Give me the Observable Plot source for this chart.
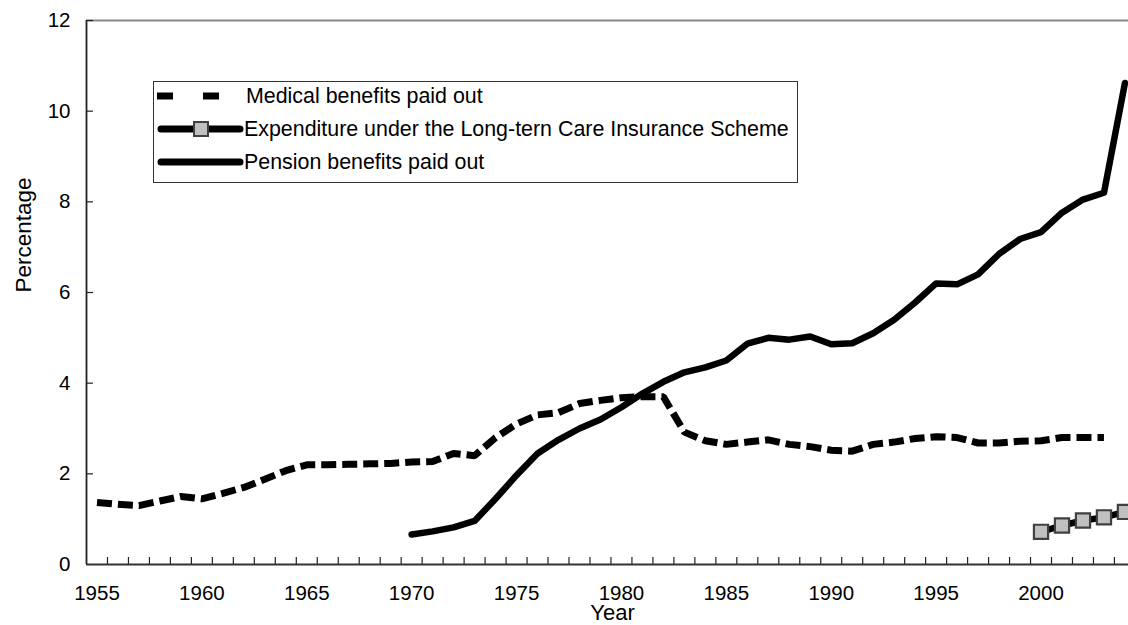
<!DOCTYPE html>
<html>
<head>
<meta charset="utf-8">
<script src="https://cdn.jsdelivr.net/npm/d3@7"></script>
<script src="https://cdn.jsdelivr.net/npm/@observablehq/plot@0.6"></script>
<style>
  html, body { margin: 0; padding: 0; background: #fff; }
  #wrap { position: relative; width: 1128px; height: 625px; overflow: hidden; font-family: "Liberation Sans", Arial, sans-serif; }
  #legend { position: absolute; left: 153px; top: 81px; width: 643px; height: 100px; border: 1px solid #333; background: #fff; }
  .row { position: absolute; left: 0; height: 30px; display: flex; align-items: center; }
  .row svg { display: block; }
  .row span { font-size: 21.4px; color: #000; white-space: nowrap; }
</style>
</head>
<body>
<div id="wrap"></div>
<script>
// ---- data ----
const medicalYears = d3.range(1955, 2004);
const medical = [1.37,1.33,1.3,1.4,1.5,1.45,1.57,1.7,1.88,2.07,
                 2.2,2.2,2.21,2.22,2.23,2.26,2.27,2.45,2.4,2.8,
                 3.1,3.3,3.35,3.55,3.62,3.68,3.7,3.7,2.92,2.73,
                 2.65,2.7,2.75,2.65,2.6,2.52,2.5,2.65,2.7,2.78,
                 2.82,2.8,2.68,2.68,2.72,2.73,2.8,2.8,2.8];
const pensionYears = d3.range(1970, 2005);
const pension = [0.66,0.73,0.82,0.96,1.45,1.97,2.45,2.75,3.0,3.2,
                 3.47,3.77,4.03,4.24,4.35,4.5,4.87,5.0,4.96,5.03,
                 4.86,4.88,5.1,5.4,5.78,6.2,6.18,6.4,6.85,7.18,
                 7.33,7.76,8.05,8.2,10.62];
const ltcYears = [2000, 2001, 2002, 2003, 2004];
const ltc = [0.72, 0.86, 0.97, 1.04, 1.16];
const seriesNames = ["Medical benefits paid out",
                     "Expenditure under the Long-tern Care Insurance Scheme",
                     "Pension benefits paid out"];
const xTickLabels = [1955,1960,1965,1970,1975,1980,1985,1990,1995,2000];
const yTickLabels = [0,2,4,6,8,10,12];

const medData = medicalYears.map((y, i) => ({year: y, value: medical[i]}));
const penData = pensionYears.map((y, i) => ({year: y, value: pension[i]}));
const ltcData = ltcYears.map((y, i) => ({year: y, value: ltc[i]}));
const yearBounds = d3.range(1955.5, 2004.5, 1);

const W = 1128, H = 625, mL = 86, mT = 20, mB = 61, mR = 0;
const plotH = H - mT - mB, plotW = W - mL - mR;

const chart = Plot.plot({
  width: W, height: H,
  marginLeft: mL, marginRight: mR, marginTop: mT, marginBottom: mB,
  x: {domain: [1954.5, 2004.17]},
  y: {domain: [0, 12]},
  style: {fontFamily: "'Liberation Sans', Arial, sans-serif", fontSize: "20px", color: "#000", background: "#fff", overflow: "hidden"},
  marks: [
    Plot.ruleY([12], {stroke: "#888", strokeWidth: 2}),
    Plot.tickY(yTickLabels.slice(1), {y: d => d, stroke: "#222", strokeWidth: 1.2, insetRight: plotW - 7}),
    Plot.tickX(yearBounds, {x: d => d, stroke: "#222", strokeWidth: 1.2, insetTop: plotH - 7}),
    Plot.ruleX([1954.5], {stroke: "#222", strokeWidth: 1.8}),
    Plot.ruleY([0], {stroke: "#333", strokeWidth: 2}),
    Plot.axisY({ticks: yTickLabels, tickSize: 0, tickPadding: 16, fontSize: 20.5, label: null}),
    Plot.axisX({ticks: xTickLabels, tickSize: 0, tickPadding: 21, fontSize: 20.5, label: null, tickFormat: d => String(d)}),
    Plot.text(["Year"], {frameAnchor: "bottom", dy: 48, dx: 5, fontSize: 22, lineAnchor: "middle"}),
    Plot.text(["Percentage"], {frameAnchor: "left", dx: -63, rotate: -90, fontSize: 22.5, lineAnchor: "middle"}),
    Plot.line(medData, {x: "year", y: "value", stroke: "#000", strokeWidth: 7, strokeDasharray: "15,6", strokeLinecap: "butt", strokeLinejoin: "miter"}),
    Plot.line(penData, {x: "year", y: "value", stroke: "#000", strokeWidth: 6.5, strokeLinecap: "round", strokeLinejoin: "round"}),
    Plot.line(ltcData, {x: "year", y: "value", stroke: "#000", strokeWidth: 6.5}),
    Plot.dot(ltcData, {x: "year", y: "value", symbol: "square", r: 8, fill: "#c0c0c0", stroke: "#404040", strokeWidth: 2.2})
  ]
});

const wrap = document.getElementById("wrap");
wrap.appendChild(chart);

// legend overlay (inside plot area)
const legend = document.createElement("div");
legend.id = "legend";
const rowTops = [-1, 32, 65];
const samples = [
  `<svg width="92" height="30"><line x1="3" y1="15" x2="19" y2="15" stroke="#000" stroke-width="7"/><line x1="49" y1="15" x2="65" y2="15" stroke="#000" stroke-width="7"/></svg>`,
  `<svg width="90" height="30"><line x1="7" y1="15" x2="86" y2="15" stroke="#000" stroke-width="7" stroke-linecap="round"/><rect x="40" y="8" width="14" height="14" fill="#c0c0c0" stroke="#404040" stroke-width="2"/></svg>`,
  `<svg width="90" height="30"><line x1="7" y1="15" x2="86" y2="15" stroke="#000" stroke-width="7" stroke-linecap="round"/></svg>`
];
seriesNames.forEach((name, i) => {
  const row = document.createElement("div");
  row.className = "row";
  row.style.top = rowTops[i] + "px";
  row.innerHTML = samples[i] + `<span>${name}</span>`;
  legend.appendChild(row);
});
wrap.appendChild(legend);
</script>
</body>
</html>
